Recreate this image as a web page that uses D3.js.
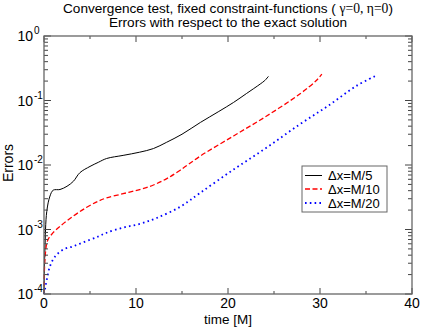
<!DOCTYPE html>
<html><head><meta charset="utf-8">
<script src="https://cdn.jsdelivr.net/npm/d3@7/dist/d3.min.js"></script>
<style>body{margin:0;background:#fff;} text{font-family:"Liberation Sans",Arial,Helvetica,sans-serif;}</style>
</head><body>
<svg id="c" width="421" height="327"></svg>
<script>
// Data
const timeM5  = [0, 0.1, 0.3, 0.65, 1.0, 1.74, 2.5, 3.2, 3.9, 5.0, 5.9, 6.8, 8.6, 10.4, 11.9, 13.3, 15.0, 17.0, 19.0, 20.6, 22.0, 23.5, 24.0, 24.4];
const errM5   = [1e-4, 4.9e-4, 1.9e-3, 3.3e-3, 4.07e-3, 4.17e-3, 4.68e-3, 5.6e-3, 7.6e-3, 9.5e-3, 0.011, 0.0126, 0.0141, 0.0158, 0.018, 0.0224, 0.030, 0.0457, 0.0676, 0.0933, 0.128, 0.18, 0.204, 0.237];
const timeM10 = [0, 0.1, 0.37, 0.8, 1.74, 3.2, 4.6, 5.9, 6.8, 8.6, 10.4, 11.9, 13.3, 14.8, 17.0, 20.6, 24.2, 27.8, 29.6, 30.2];
const errM10  = [1e-4, 3.4e-4, 6.6e-4, 8.3e-4, 1.12e-3, 1.62e-3, 2.19e-3, 2.75e-3, 3.09e-3, 3.59e-3, 4.17e-3, 4.9e-3, 6.1e-3, 8.3e-3, 0.0138, 0.0282, 0.0575, 0.126, 0.204, 0.257];
const timeM20 = [0, 0.1, 0.3, 0.65, 1.2, 2.1, 3.2, 4.6, 5.9, 6.8, 8.6, 10.4, 12.2, 14.8, 17.0, 20.6, 24.2, 27.8, 30.9, 34.0, 36.1];
const errM20  = [1e-4, 1.17e-4, 1.66e-4, 2.69e-4, 3.8e-4, 4.9e-4, 5.5e-4, 6.6e-4, 7.8e-4, 8.9e-4, 1.07e-3, 1.22e-3, 1.5e-3, 2.25e-3, 3.72e-3, 8.5e-3, 0.0186, 0.0427, 0.083, 0.17, 0.243];
const seriesNames = ["\u0394x=M/5", "\u0394x=M/10", "\u0394x=M/20"];
const xTicks = [0, 10, 20, 30, 40];
const xMinorTicks = [5, 15, 25, 35];
const yExponents = [0, -1, -2, -3, -4];

const svg = d3.select("#c");
const L = 44, R = 412, T = 36, B = 294;
const x = d3.scaleLinear().domain([0, 40]).range([L, R]);
const y = d3.scaleLog().domain([1e-4, 1]).range([B, T]);

// titles
const t1 = svg.append("text").attr("x", 228).attr("y", 13).attr("text-anchor", "middle").attr("font-size", 13.6);
t1.append("tspan").text("Convergence test, fixed constraint-functions ( ");
t1.append("tspan").attr("font-family", "Liberation Serif, serif").text("\u03b3=0, \u03b7=0");
t1.append("tspan").text(")");
svg.append("text").attr("x", 228).attr("y", 27).attr("text-anchor", "middle").attr("font-size", 13.6)
  .text("Errors with respect to the exact solution");

// series
const series = [
  {t: timeM5, e: errM5, color: "#000", dash: null, w: 1},
  {t: timeM10, e: errM10, color: "#ff0000", dash: "5,2.5", w: 1.3},
  {t: timeM20, e: errM20, color: "#0000ff", dash: "1.6,3.2", w: 1.8}
];
const line = d3.line().x(d => x(d[0])).y(d => y(d[1])).curve(d3.curveCatmullRom.alpha(0.5));
const g = svg.append("g");
series.forEach(s => {
  g.append("path").datum(s.t.map((v, i) => [v, s.e[i]]))
    .attr("d", line).attr("fill", "none").attr("stroke", s.color)
    .attr("stroke-width", s.w).attr("stroke-dasharray", s.dash);
});

// ticks
const axG = svg.append("g").attr("stroke", "#444").attr("stroke-width", 1);
xTicks.forEach(v => {
  axG.append("line").attr("x1", x(v)).attr("x2", x(v)).attr("y1", B).attr("y2", B - 6);
  axG.append("line").attr("x1", x(v)).attr("x2", x(v)).attr("y1", T).attr("y2", T + 6);
});
xMinorTicks.forEach(v => {
  axG.append("line").attr("x1", x(v)).attr("x2", x(v)).attr("y1", B).attr("y2", B - 3);
  axG.append("line").attr("x1", x(v)).attr("x2", x(v)).attr("y1", T).attr("y2", T + 3);
});
yExponents.forEach(ex => {
  const v = Math.pow(10, ex);
  axG.append("line").attr("x1", L).attr("x2", L + 7).attr("y1", y(v)).attr("y2", y(v));
  axG.append("line").attr("x1", R).attr("x2", R - 7).attr("y1", y(v)).attr("y2", y(v));
  if (ex < 0) {
    for (let k = 2; k <= 9; k++) {
      const mv = k * v;
      axG.append("line").attr("x1", L).attr("x2", L + 4).attr("y1", y(mv)).attr("y2", y(mv));
      axG.append("line").attr("x1", R).attr("x2", R - 4).attr("y1", y(mv)).attr("y2", y(mv));
    }
  }
});

// frame
svg.append("rect").attr("x", L).attr("y", T).attr("width", R - L).attr("height", B - T)
  .attr("fill", "none").attr("stroke", "#666").attr("stroke-width", 1.3);

// tick labels
xTicks.forEach(v => {
  svg.append("text").attr("x", x(v)).attr("y", 308).attr("text-anchor", "middle").attr("font-size", 14).text(v);
});
yExponents.forEach(ex => {
  const tx = svg.append("text").attr("x", 33).attr("y", y(Math.pow(10, ex)) + 5).attr("text-anchor", "end").attr("font-size", 14);
  tx.text("10");
  svg.append("text").attr("x", 34).attr("y", y(Math.pow(10, ex)) - 2).attr("font-size", 10).text(ex === 0 ? "0" : "-" + Math.abs(ex));
});

// axis titles
svg.append("text").attr("x", 228).attr("y", 323.5).attr("text-anchor", "middle").attr("font-size", 13.5).text("time [M]");
svg.append("text").attr("transform", "translate(13,163) rotate(-90)").attr("text-anchor", "middle").attr("font-size", 14).text("Errors");

// legend
const lg = svg.append("g");
lg.append("rect").attr("x", 302).attr("y", 166).attr("width", 85).attr("height", 46)
  .attr("fill", "#fff").attr("stroke", "#666").attr("stroke-width", 1);
const rowY = [175.5, 189, 203];
series.forEach((s, i) => {
  lg.append("line").attr("x1", 305).attr("x2", 322).attr("y1", rowY[i]).attr("y2", rowY[i])
    .attr("stroke", s.color).attr("stroke-width", s.w).attr("stroke-dasharray", s.dash);
  lg.append("text").attr("x", 328).attr("y", rowY[i] + 4.5).attr("font-size", 13).text(seriesNames[i]);
});
</script>
</body></html>
